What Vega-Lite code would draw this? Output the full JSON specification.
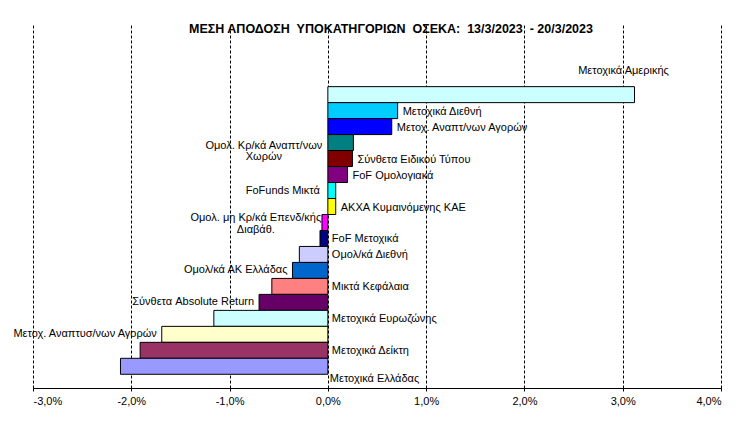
{
  "$schema": "https://vega.github.io/schema/vega-lite/v6.json",
  "autosize": {"type": "none"},
  "width": 688,
  "height": 363,
  "padding": {"left": 33, "top": 25, "right": 29, "bottom": 33},
  "background": "white",
  "title": {
    "text": "ΜΕΣΗ ΑΠΟΔΟΣΗ \u00a0ΥΠΟΚΑΤΗΓΟΡΙΩΝ \u00a0ΟΣΕΚΑ: \u00a013/3/2023 \u00a0- 20/3/2023",
    "font": "Liberation Sans",
    "fontSize": 12.5,
    "fontWeight": "bold",
    "color": "black",
    "anchor": "middle",
    "baseline": "alphabetic",
    "offset": -20,
    "dx": 14
  },
  "config": {
    "view": {"stroke": null},
    "text": {"font": "Liberation Sans", "fontSize": 11, "color": "black"}
  },
  "data": {
    "values": [
      {"name": "Μετοχικά Αμερικής", "value": 3.12},
      {"name": "Μετοχικά Διεθνή", "value": 0.71},
      {"name": "Μετοχ.  Αναπτ/νων Αγορών", "value": 0.65},
      {"name": "Ομολ. Κρ/κά Αναπτ/νων Χωρών", "value": 0.26},
      {"name": "Σύνθετα Ειδικού Τύπου", "value": 0.25},
      {"name": "FoF Ομολογιακά", "value": 0.2},
      {"name": "FoFunds Μικτά", "value": 0.08},
      {"name": "ΑΚΧΑ Κυμαινόμενης ΚΑΕ", "value": 0.08},
      {"name": "Ομολ. μη Κρ/κά Επενδ/κής Διαβάθ.", "value": -0.06},
      {"name": "FoF Μετοχικά", "value": -0.08},
      {"name": "Ομολ/κά Διεθνή", "value": -0.29},
      {"name": "Ομολ/κά ΑΚ Ελλάδας", "value": -0.36},
      {"name": "Μικτά Κεφάλαια", "value": -0.57},
      {"name": "Σύνθετα Absolute Return", "value": -0.7},
      {"name": "Μετοχικά Ευρωζώνης", "value": -1.16},
      {"name": "Μετοχ.  Αναπτυσ/νων Αγορών", "value": -1.69},
      {"name": "Μετοχικά Δείκτη", "value": -1.91},
      {"name": "Μετοχικά Ελλάδας", "value": -2.11}
    ]
  },
  "encoding": {
    "y": {
      "field": "name",
      "type": "nominal",
      "axis": null,
      "scale": {
        "domain": ["pad1", "pad2", "pad3", "Μετοχικά Αμερικής", "Μετοχικά Διεθνή", "Μετοχ.  Αναπτ/νων Αγορών", "Ομολ. Κρ/κά Αναπτ/νων Χωρών", "Σύνθετα Ειδικού Τύπου", "FoF Ομολογιακά", "FoFunds Μικτά", "ΑΚΧΑ Κυμαινόμενης ΚΑΕ", "Ομολ. μη Κρ/κά Επενδ/κής Διαβάθ.", "FoF Μετοχικά", "Ομολ/κά Διεθνή", "Ομολ/κά ΑΚ Ελλάδας", "Μικτά Κεφάλαια", "Σύνθετα Absolute Return", "Μετοχικά Ευρωζώνης", "Μετοχ.  Αναπτυσ/νων Αγορών", "Μετοχικά Δείκτη", "Μετοχικά Ελλάδας"],
        "paddingInner": 0,
        "paddingOuter": 0.858,
        "align": 0.5
      }
    }
  },
  "layer": [
    {
      "mark": {"type": "bar", "stroke": "black", "strokeWidth": 1},
      "encoding": {
        "x": {
          "field": "value",
          "type": "quantitative",
          "scale": {"domain": [-3, 4], "nice": false, "zero": false},
          "axis": {
            "title": null,
            "values": [-3, -2, -1, 0, 1, 2, 3, 4],
            "labelExpr": "replace(replace(format(datum.value, '.1f'), '.', ','), '\u2212', '-') + '%'",
            "labelFont": "Liberation Sans",
            "labelFontSize": 11,
            "labelColor": "black",
            "labelPadding": 4,
            "domainColor": "black",
            "domainWidth": 1,
            "tickColor": "black",
            "tickSize": 3,
            "grid": true,
            "gridColor": "black",
            "gridDash": [3, 2],
            "gridWidth": 1,
            "gridOpacity": 1
          }
        },
        "color": {
          "field": "name",
          "type": "nominal",
          "legend": null,
          "scale": {
            "domain": ["Μετοχικά Αμερικής", "Μετοχικά Διεθνή", "Μετοχ.  Αναπτ/νων Αγορών", "Ομολ. Κρ/κά Αναπτ/νων Χωρών", "Σύνθετα Ειδικού Τύπου", "FoF Ομολογιακά", "FoFunds Μικτά", "ΑΚΧΑ Κυμαινόμενης ΚΑΕ", "Ομολ. μη Κρ/κά Επενδ/κής Διαβάθ.", "FoF Μετοχικά", "Ομολ/κά Διεθνή", "Ομολ/κά ΑΚ Ελλάδας", "Μικτά Κεφάλαια", "Σύνθετα Absolute Return", "Μετοχικά Ευρωζώνης", "Μετοχ.  Αναπτυσ/νων Αγορών", "Μετοχικά Δείκτη", "Μετοχικά Ελλάδας"],
            "range": ["#CCFFFF", "#00CCFF", "#0000FF", "#008080", "#800000", "#800080", "#00FFFF", "#FFFF00", "#FF00FF", "#000080", "#CCCCFF", "#0066CC", "#FF8080", "#660066", "#CCFFFF", "#FFFFCC", "#993366", "#9999FF"]
          }
        }
      }
    },
    {
      "transform": [{"filter": {"field": "name", "oneOf": ["Μετοχικά Διεθνή", "Μετοχ.  Αναπτ/νων Αγορών", "Σύνθετα Ειδικού Τύπου", "FoF Ομολογιακά", "ΑΚΧΑ Κυμαινόμενης ΚΑΕ"]}}],
      "mark": {"type": "text", "align": "left", "baseline": "middle", "dx": 5, "dy": 1},
      "encoding": {"x": {"field": "value", "type": "quantitative"}, "text": {"field": "name"}}
    },
    {
      "transform": [{"filter": {"field": "name", "oneOf": ["FoF Μετοχικά", "Ομολ/κά Διεθνή", "Μικτά Κεφάλαια", "Μετοχικά Ευρωζώνης", "Μετοχικά Δείκτη"]}}],
      "mark": {"type": "text", "align": "left", "baseline": "middle", "dx": 4, "dy": 1},
      "encoding": {"x": {"datum": 0, "type": "quantitative"}, "text": {"field": "name"}}
    },
    {
      "transform": [{"filter": {"field": "name", "equal": "Μετοχικά Ελλάδας"}}],
      "mark": {"type": "text", "align": "left", "baseline": "middle", "dx": 2, "dy": 13},
      "encoding": {"x": {"datum": 0, "type": "quantitative"}, "text": {"field": "name"}}
    },
    {
      "transform": [{"filter": {"field": "name", "oneOf": ["Ομολ/κά ΑΚ Ελλάδας", "Σύνθετα Absolute Return", "Μετοχ.  Αναπτυσ/νων Αγορών"]}}],
      "mark": {"type": "text", "align": "right", "baseline": "middle", "dx": -5},
      "encoding": {"x": {"field": "value", "type": "quantitative"}, "text": {"field": "name"}}
    },
    {
      "transform": [{"filter": {"field": "name", "equal": "FoFunds Μικτά"}}],
      "mark": {"type": "text", "align": "right", "baseline": "middle", "dx": -8},
      "encoding": {"x": {"datum": 0, "type": "quantitative"}, "text": {"field": "name"}}
    },
    {
      "transform": [{"filter": {"field": "name", "equal": "Μετοχικά Αμερικής"}}],
      "mark": {"type": "text", "align": "center", "baseline": "middle", "dx": -11, "dy": -24},
      "encoding": {"x": {"field": "value", "type": "quantitative"}, "text": {"field": "name"}}
    },
    {
      "transform": [
        {"filter": {"field": "name", "equal": "Ομολ. Κρ/κά Αναπτ/νων Χωρών"}},
        {"calculate": "[slice(datum.name, 0, lastindexof(datum.name, ' ')), slice(datum.name, lastindexof(datum.name, ' ') + 1)]", "as": "lines"}
      ],
      "mark": {"type": "text", "align": "center", "baseline": "middle", "dx": -64, "dy": 3, "lineHeight": 11.5},
      "encoding": {"x": {"datum": 0, "type": "quantitative"}, "text": {"field": "lines"}}
    },
    {
      "transform": [
        {"filter": {"field": "name", "equal": "Ομολ. μη Κρ/κά Επενδ/κής Διαβάθ."}},
        {"calculate": "[slice(datum.name, 0, lastindexof(datum.name, ' ')), slice(datum.name, lastindexof(datum.name, ' ') + 1)]", "as": "lines"}
      ],
      "mark": {"type": "text", "align": "center", "baseline": "middle", "dx": -72, "dy": -4, "lineHeight": 11.5},
      "encoding": {"x": {"datum": 0, "type": "quantitative"}, "text": {"field": "lines"}}
    }
  ]
}
